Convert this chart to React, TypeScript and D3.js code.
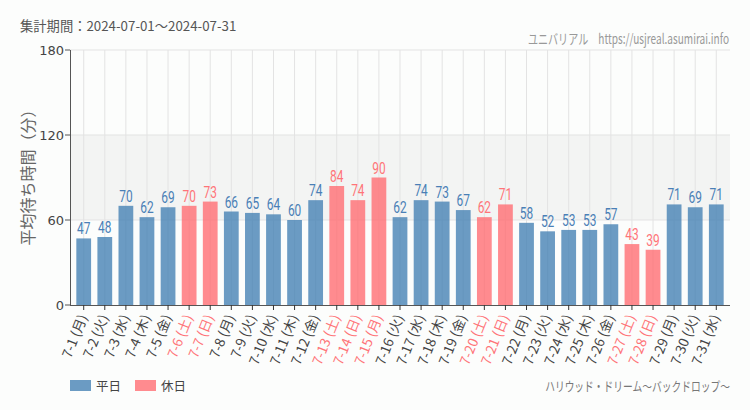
import React from "react";
import * as d3 from "d3";

const days = ["7-1","7-2","7-3","7-4","7-5","7-6","7-7","7-8","7-9","7-10","7-11","7-12","7-13","7-14","7-15","7-16","7-17","7-18","7-19","7-20","7-21","7-22","7-23","7-24","7-25","7-26","7-27","7-28","7-29","7-30","7-31"];
const weekdays = ["月","火","水","木","金","土","日","月","火","水","木","金","土","日","月","火","水","木","金","土","日","月","火","水","木","金","土","日","月","火","水"];
const values = [47,48,70,62,69,70,73,66,65,64,60,74,84,74,90,62,74,73,67,62,71,58,52,53,53,57,43,39,71,69,71];
const holidays = [false,false,false,false,false,true,true,false,false,false,false,false,true,true,true,false,false,false,false,true,true,false,false,false,false,false,true,true,false,false,false];
const yTicks = [0, 60, 120, 180];
const legendLabels = ["平日", "休日"];

const W = 750, H = 410;
const M = { left: 70, right: 20, top: 50, bottom: 105 };
const BLUE = "#4682b4";
const PINK = "#ff6e73";
const BLUE_TXT = "#4a7fb6";
const PINK_TXT = "#ff7478";
const JP = "'Noto Sans CJK JP', 'Noto Sans', sans-serif";
const NUM = "Roboto, 'Liberation Sans', sans-serif";

export default function App() {
  const x = d3.scaleBand<string>().domain(days).range([M.left, W - M.right]).padding(0.3);
  const y = d3.scaleLinear().domain([0, 180]).range([H - M.bottom, M.top]);
  const bw = x.bandwidth();
  const cx = (d: string) => (x(d) as number) + bw / 2;
  const y0 = y(0);
  return (
    <svg width={W} height={H} style={{ position: "absolute", left: 0, top: 0, background: "#fcfdfc" }}>
      <rect x={0} y={0} width={W} height={H} fill="#fcfdfc" />
      <text x={20} y={31} fontFamily={JP} fontSize={13.3} fill="#555">集計期間：2024-07-01～2024-07-31</text>
      <g transform="translate(729,44) scale(0.72,1)">
        <text x={0} y={0} textAnchor="end" fontFamily={JP} fontSize={14} fill="#999">
          ユニバリアル<tspan dx={14}>https://usjreal.asumirai.info</tspan>
        </text>
      </g>
      {/* shaded band */}
      <rect x={M.left} y={y(120)} width={W - M.right - M.left} height={y(60) - y(120)} fill="#f3f4f3" />
      {/* horizontal grid */}
      {yTicks.filter(t => t > 0).map(t => (
        <line key={t} x1={M.left} x2={W - M.right} y1={y(t)} y2={y(t)} stroke="#e3e3e3" strokeWidth={1} />
      ))}
      {/* vertical grid */}
      {days.map(d => (
        <line key={d} x1={cx(d)} x2={cx(d)} y1={y(180)} y2={y0} stroke="#e3e3e3" strokeWidth={1} />
      ))}
      {/* bars */}
      {days.map((d, i) => (
        <rect key={d} x={x(d)} y={y(values[i])} width={bw} height={y0 - y(values[i])}
          fill={holidays[i] ? PINK : BLUE} fillOpacity={0.8} />
      ))}
      {/* value labels */}
      {days.map((d, i) => (
        <g key={d} transform={`translate(${cx(d)},${y(values[i]) - 4}) scale(0.7,1)`}>
          <text x={0} y={0} textAnchor="middle" fontFamily={NUM}
            fontSize={17} fill={holidays[i] ? PINK_TXT : BLUE_TXT}>{values[i]}</text>
        </g>
      ))}
      {/* y axis */}
      <line x1={M.left + 0.5} x2={M.left + 0.5} y1={y(180)} y2={y0} stroke="#555" />
      {yTicks.map(t => (
        <g key={t}>
          <line x1={M.left - 5} x2={M.left} y1={y(t)} y2={y(t)} stroke="#555" />
          <text x={M.left - 6} y={y(t) + 4.5} textAnchor="end" fontFamily="'DejaVu Sans', sans-serif" fontSize={13} fill="#444">{t}</text>
        </g>
      ))}
      <text transform={`translate(34,${(y(0) + y(180)) / 2 - 4}) rotate(-90)`} textAnchor="middle" fontFamily={JP} fontSize={16} fill="#666">平均待ち時間（分）</text>
      {/* x axis */}
      <line x1={M.left} x2={W - M.right} y1={y0 + 0.5} y2={y0 + 0.5} stroke="#555" />
      {days.map((d, i) => (
        <g key={d}>
          <line x1={cx(d)} x2={cx(d)} y1={y0} y2={y0 + 5} stroke="#333" />
          <text transform={`translate(${cx(d) + 4},${y0 + 12}) rotate(-68)`} textAnchor="end" fontFamily={JP}
            fontSize={13.5} fill={holidays[i] ? PINK_TXT : "#444"}>{`${d} (${weekdays[i]})`}</text>
        </g>
      ))}
      {/* legend */}
      <rect x={70} y={380} width={21} height={11} fill={BLUE} fillOpacity={0.8} />
      <text x={96} y={391} fontFamily={JP} fontSize={12.5} fill="#444">{legendLabels[0]}</text>
      <rect x={135} y={380} width={21} height={11} fill={PINK} fillOpacity={0.8} />
      <text x={161} y={391} fontFamily={JP} fontSize={12.5} fill="#444">{legendLabels[1]}</text>
      <g transform="translate(730,391) scale(0.75,1)">
        <text x={0} y={0} textAnchor="end" fontFamily={JP} fontSize={13} fill="#777">ハリウッド・ドリーム～バックドロップ～</text>
      </g>
    </svg>
  );
}
